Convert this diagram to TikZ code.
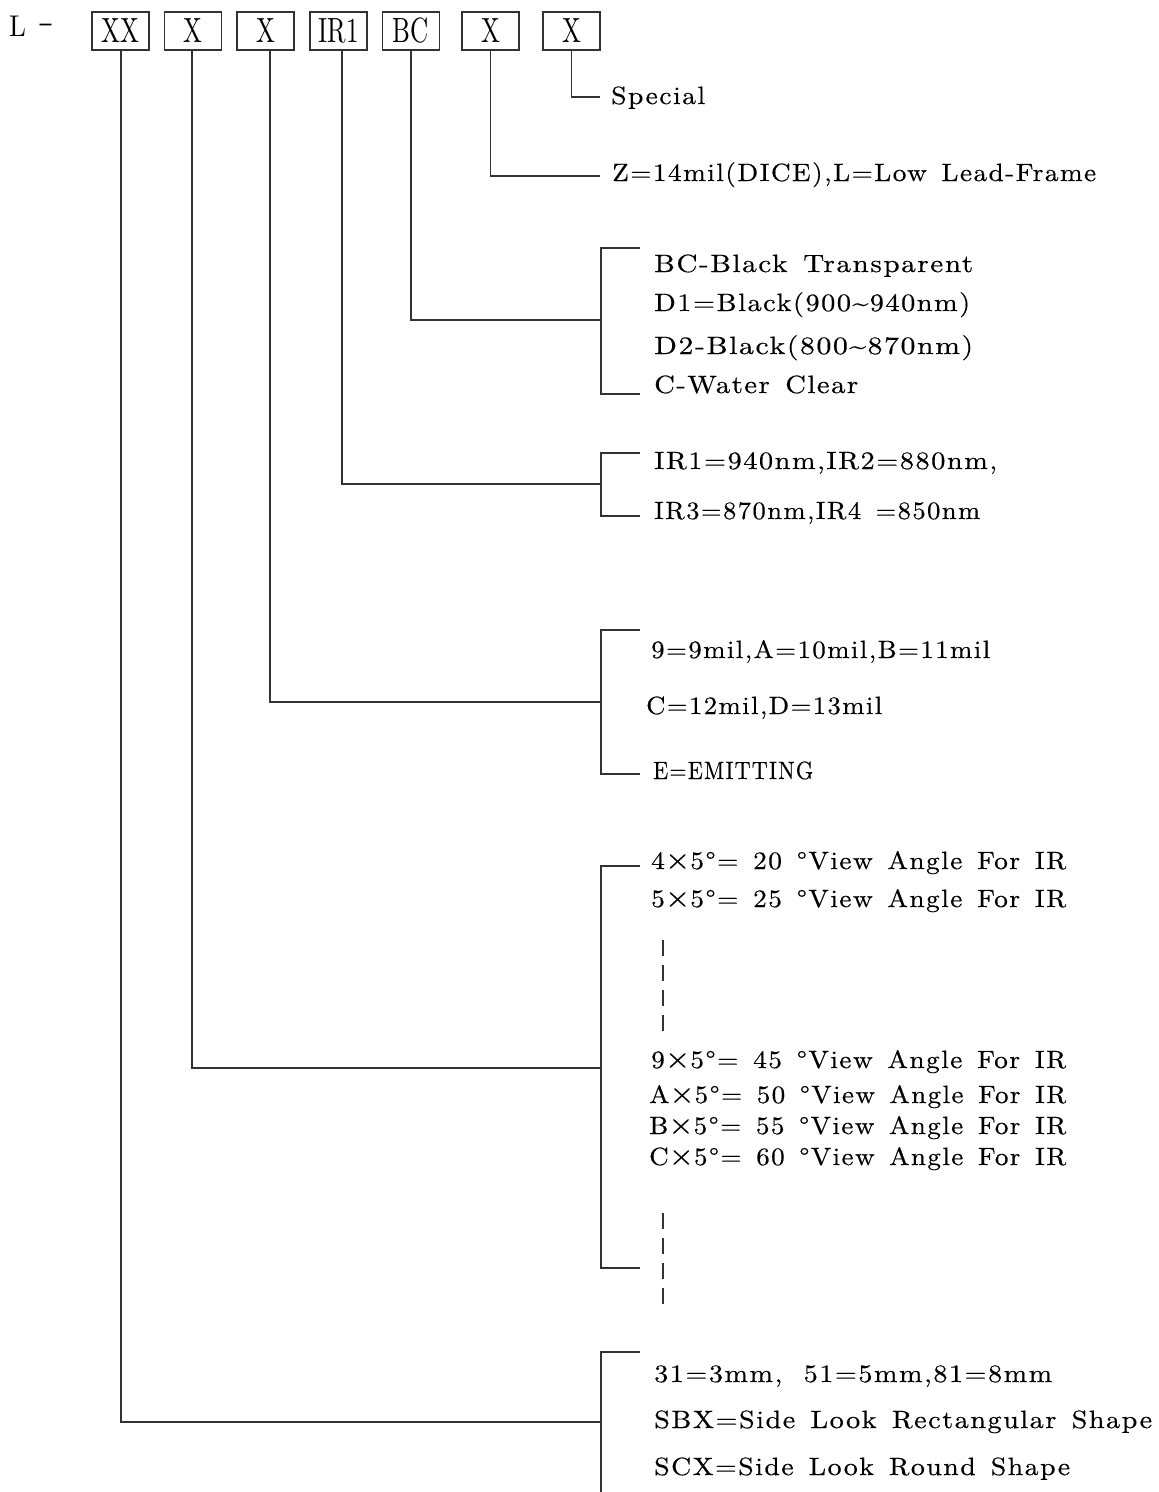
\documentclass[tikz,border=0pt]{standalone}
\usepackage{graphicx}
\usepackage{fontspec}
\setmainfont{lmroman10-regular.otf}[FakeStretch=1.12, LetterSpace=6, WordSpace=1.4, FakeBold=0.4]
\newfontfamily\boxfontfam{lmroman10-regular.otf}[FakeStretch=0.72]
\newfontfamily\headfontfam{lmroman10-regular.otf}[FakeStretch=0.9]
\newcommand\lblfont{\fontsize{25}{28}\selectfont}
\newcommand\codefont{\boxfontfam\fontsize{35}{35}\selectfont}
\newcommand\headfont{\headfontfam\fontsize{30}{30}\selectfont}
\newcommand\fitw[2]{\resizebox{#1pt}{\height}{#2}}
\newcommand\bigx{\smash{\scalebox{1.2}{×}}}
\begin{document}
\begin{tikzpicture}[x=1pt,y=-1pt]
\tikzset{
  code/.style={draw=black!80, line width=1.1pt, minimum width=57pt, minimum height=38pt, inner sep=0pt, font=\codefont},
  lbl/.style={anchor=base west, inner sep=0pt, font=\lblfont},
  ln/.style={draw=black!80, line width=1.2pt},
  dots/.style={draw=black!80, line width=1.2pt, dash pattern=on 16pt off 9pt},
}
\useasboundingbox (0,0) rectangle (1159,1492);
% header
\node[anchor=base west, inner sep=0pt, font=\headfont] (pre) at (9,36) {L\hspace{13pt}\raisebox{5pt}{\resizebox{15pt}{\height}{-}}};
\node[code] (b1) at (120.5,31) {XX};
\node[code] (b2) at (193,31) {X};
\node[code] (b3) at (265.5,31) {X};
\node[code] (b4) at (338.5,31) {IR1};
\node[code] (b5) at (411,31) {BC};
\node[code] (b6) at (490.5,31) {X};
\node[code] (b7) at (571.5,31) {X};

% texts
\node[lbl] (t7) at (611,104) {\fitw{94}{Special}};
\node[lbl] (t6) at (612,181) {\fitw{484}{Z=14mil(DICE),L=Low Lead-Frame}};
\node[lbl] (t5a) at (654,272) {\fitw{319}{BC-Black Transparent}};
\node[lbl] (t5b) at (654,311) {\fitw{316}{D1=Black(900{\char"7E}940nm)}};
\node[lbl] (t5c) at (654,354) {\fitw{319}{D2-Black(800{\char"7E}870nm)}};
\node[lbl] (t5d) at (654,393) {\fitw{204}{C-Water Clear}};
\node[lbl] (t4a) at (654,469) {\fitw{343}{IR1=940nm,IR2=880nm,}};
\node[lbl] (t4b) at (654,519) {\fitw{326}{IR3=870nm,IR4 =850nm}};
\node[lbl] (t3a) at (651,658) {\fitw{339}{9=9mil,A=10mil,B=11mil}};
\node[lbl] (t3b) at (646,714) {\fitw{236}{C=12mil,D=13mil}};
\node[lbl] (t3c) at (653,779) {\fitw{160}{E=EMITTING}};
\node[lbl] (t2a) at (651,869) {\fitw{415}{4\bigx5°= 20 °View Angle For IR}};
\node[lbl] (t2b) at (651,907) {\fitw{415}{5\bigx5°= 25 °View Angle For IR}};
\node[lbl] (t2c) at (651,1068) {\fitw{415}{9\bigx5°= 45 °View Angle For IR}};
\node[lbl] (t2d) at (649,1103) {\fitw{417}{A\bigx5°= 50 °View Angle For IR}};
\node[lbl] (t2e) at (649,1134) {\fitw{417}{B\bigx5°= 55 °View Angle For IR}};
\node[lbl] (t2f) at (649,1165) {\fitw{417}{C\bigx5°= 60 °View Angle For IR}};
\node[lbl] (t1a) at (654,1382) {\fitw{398}{31=3mm,\hspace{6pt} 51=5mm,81=8mm}};
\node[lbl] (t1b) at (654,1428) {\fitw{498}{SBX=Side Look Rectangular Shape}};
\node[lbl] (t1c) at (654,1475) {\fitw{416}{SCX=Side Look Round Shape}};

% bracket coordinates
\coordinate (k7) at (600,97);
\coordinate (k6) at (600,176);
\coordinate (k5) at (601,320);
\coordinate (k4) at (601,484);
\coordinate (k3) at (601,702);
\coordinate (k2) at (601,1068);
\coordinate (k1) at (601,1422);

% leaders
\draw[ln] (b7.south) |- (k7);
\draw[ln] (b6.south) |- (k6);
\draw[ln] (b5.south) |- (k5);
\draw[ln] (b4.south -| 342,0) |- (k4);
\draw[ln] (b3.south -| 270,0) |- (k3);
\draw[ln] (b2.south -| 192,0) |- (k2);
\draw[ln] (b1.south -| 121,0) |- (k1);

% brackets
\draw[ln] (640,248) -- (601,248) -- (601,394) -- (640,394);
\draw[ln] (640,453) -- (601,453) -- (601,516) -- (640,516);
\draw[ln] (640,630) -- (601,630) -- (601,774) -- (640,774);
\draw[ln] (640,866) -- (601,866) -- (601,1268) -- (640,1268);
\draw[ln] (640,1352) -- (601,1352) -- (601,1492);

% dashed continuation marks
\draw[dots] (663,940) -- (663,1033);
\draw[dots] (663,1213) -- (663,1306);
\end{tikzpicture}
\end{document}
